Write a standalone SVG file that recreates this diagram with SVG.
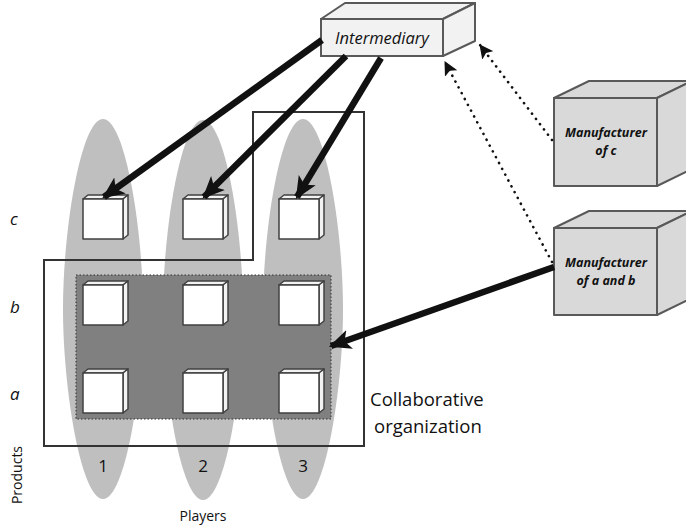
<svg xmlns="http://www.w3.org/2000/svg" width="686" height="529" viewBox="0 0 686 529">
<style>
.pl{fill:#bfbfbf;}
.cf{fill:#fff;stroke:#404040;stroke-width:1.5;stroke-linejoin:round;}
.cs{fill:#f2f2f2;stroke:#404040;stroke-width:1.5;stroke-linejoin:round;}
.thick{stroke:#111;stroke-width:6.5;fill:none;marker-end:url(#ah);}
.dot{stroke:#111;stroke-width:2.6;fill:none;stroke-dasharray:0.1 6.5;stroke-linecap:round;marker-end:url(#ad);}
.lab{font-family:"Open Sans","Liberation Sans",sans-serif;fill:#111;}
.mf{fill:#d9d9d9;stroke:#595959;stroke-width:2;stroke-linejoin:round;}
.mt{font-family:"Open Sans","Liberation Sans",sans-serif;font-style:italic;font-weight:bold;font-size:12.5px;fill:#111;text-anchor:middle;}
</style>
<defs>
<marker id="ah" markerUnits="userSpaceOnUse" markerWidth="22" markerHeight="22" refX="18" refY="10" orient="auto" viewBox="0 0 20 20">
<path d="M0,1 L20,10 L0,19 L5,10 Z" fill="#111"/>
</marker>
<marker id="ad" markerUnits="userSpaceOnUse" markerWidth="14" markerHeight="14" refX="13" refY="7" orient="auto" viewBox="0 0 14 14">
<path d="M0,0 L14,7 L0,14 L3,7 Z" fill="#111"/>
</marker>
<path id="pshape" d="M0,-190 C22,-190 40,-80 40,0 C40,80 22,190 0,190 C-22,190 -40,80 -40,0 C-40,-80 -22,-190 0,-190 Z"/>
</defs>
<rect width="686" height="529" fill="#fff"/>

<g id="players">
<use href="#pshape" class="pl" x="103" y="309"/>
<use href="#pshape" class="pl" x="203" y="310"/>
<use href="#pshape" class="pl" x="303" y="309"/>
</g>

<g id="collaborative-organization">
<polygon points="44,260 253,260 253,112 364,112 364,446 44,446" fill="none" stroke="#333" stroke-width="2"/>
<text class="lab" x="370" y="406" font-size="18.5">Collaborative</text>
<text class="lab" x="374" y="433" font-size="18.5">organization</text>
</g>

<g id="shared-area">
<rect x="76" y="275" width="255" height="144" fill="#808080" stroke="#333" stroke-width="1" stroke-dasharray="1.5 2"/>
</g>

<g id="products">
<g id="c1"><polygon class="cs" points="83,199 88,195 128,195 123,199"/><polygon class="cs" points="123,199 128,195 128,235 123,239"/><rect class="cf" x="83" y="199" width="40" height="40"/></g>
<g id="c2"><polygon class="cs" points="183,199 188,195 228,195 223,199"/><polygon class="cs" points="223,199 228,195 228,235 223,239"/><rect class="cf" x="183" y="199" width="40" height="40"/></g>
<g id="c3"><polygon class="cs" points="279,199 284,195 324,195 319,199"/><polygon class="cs" points="319,199 324,195 324,235 319,239"/><rect class="cf" x="279" y="199" width="40" height="40"/></g>
<g id="b1"><polygon class="cs" points="83,285 88,281 128,281 123,285"/><polygon class="cs" points="123,285 128,281 128,321 123,325"/><rect class="cf" x="83" y="285" width="40" height="40"/></g>
<g id="b2"><polygon class="cs" points="183,285 188,281 228,281 223,285"/><polygon class="cs" points="223,285 228,281 228,321 223,325"/><rect class="cf" x="183" y="285" width="40" height="40"/></g>
<g id="b3"><polygon class="cs" points="279,285 284,281 324,281 319,285"/><polygon class="cs" points="319,285 324,281 324,321 319,325"/><rect class="cf" x="279" y="285" width="40" height="40"/></g>
<g id="a1"><polygon class="cs" points="83,373 88,369 128,369 123,373"/><polygon class="cs" points="123,373 128,369 128,409 123,413"/><rect class="cf" x="83" y="373" width="40" height="40"/></g>
<g id="a2"><polygon class="cs" points="183,373 188,369 228,369 223,373"/><polygon class="cs" points="223,373 228,369 228,409 223,413"/><rect class="cf" x="183" y="373" width="40" height="40"/></g>
<g id="a3"><polygon class="cs" points="279,373 284,369 324,369 319,373"/><polygon class="cs" points="319,373 324,369 324,409 319,413"/><rect class="cf" x="279" y="373" width="40" height="40"/></g>
</g>

<g id="intermediary">
<polygon points="321,19 345,3 475,3 443,19" fill="#f2f2f2" stroke="#595959" stroke-width="2" stroke-linejoin="round"/>
<polygon points="443,19 475,3 475,41 443,56" fill="#f2f2f2" stroke="#595959" stroke-width="2" stroke-linejoin="round"/>
<rect x="321" y="19" width="122" height="37" fill="#f2f2f2" stroke="#595959" stroke-width="2"/>
<text class="lab" x="382" y="44" font-size="16.5" font-style="italic" text-anchor="middle">Intermediary</text>
</g>

<g id="manufacturer-c">
<polygon class="mf" points="554,98 589,81 692,81 657,98"/>
<polygon class="mf" points="657,98 692,81 692,169 657,186"/>
<rect class="mf" x="554" y="98" width="103" height="88"/>
<text class="mt" x="606" y="137">Manufacturer</text>
<text class="mt" x="606" y="155">of c</text>
</g>

<g id="manufacturer-ab">
<polygon class="mf" points="554,228 589,211 692,211 657,228"/>
<polygon class="mf" points="657,228 692,211 692,298 657,315"/>
<rect class="mf" x="554" y="228" width="103" height="87"/>
<text class="mt" x="606" y="267">Manufacturer</text>
<text class="mt" x="606" y="285">of a and b</text>
</g>

<g id="connectors">
<line class="thick" x1="322" y1="40" x2="104" y2="197"/>
<line class="thick" x1="346" y1="56" x2="204" y2="197"/>
<line class="thick" x1="381" y1="58" x2="297" y2="197"/>
<line class="thick" x1="554" y1="267" x2="331" y2="346"/>
<line class="dot" x1="552" y1="140" x2="480" y2="45"/>
<line class="dot" x1="552" y1="262" x2="445" y2="62"/>
</g>

<g id="axis-labels">
<text class="lab" x="10" y="225" font-size="17" font-style="italic">c</text>
<text class="lab" x="10" y="313" font-size="17" font-style="italic">b</text>
<text class="lab" x="10" y="400" font-size="17" font-style="italic">a</text>
<text class="lab" x="103" y="472" font-size="17" text-anchor="middle">1</text>
<text class="lab" x="203" y="472" font-size="17" text-anchor="middle">2</text>
<text class="lab" x="303" y="472" font-size="17" text-anchor="middle">3</text>
<text class="lab" x="203" y="521" font-size="14" text-anchor="middle">Players</text>
<text class="lab" x="0" y="0" font-size="14" text-anchor="middle" transform="translate(22,475) rotate(-90)">Products</text>
</g>
</svg>
